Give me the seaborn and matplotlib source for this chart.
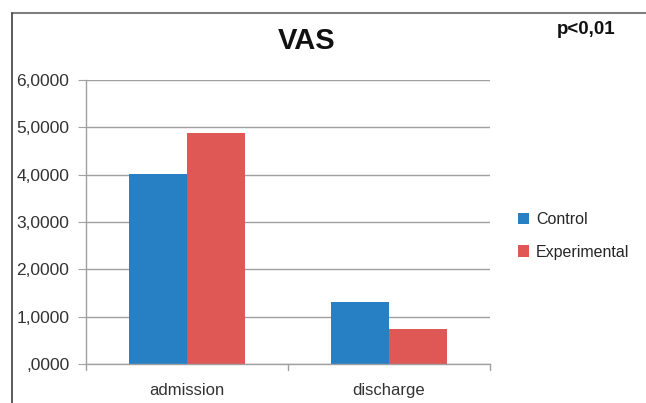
import matplotlib
matplotlib.use("Agg")
import matplotlib.pyplot as plt
from matplotlib.lines import Line2D
from matplotlib.patches import Patch
import seaborn as sns
import pandas as pd

# Data
categories = ["admission", "discharge"]
groups = ["Control", "Experimental"]
control_vals = [4.02, 1.31]
experimental_vals = [4.88, 0.74]
yticks = [0, 1, 2, 3, 4, 5, 6]
ytick_labels = [",0000", "1,0000", "2,0000", "3,0000", "4,0000", "5,0000", "6,0000"]
colors = {"Control": "#2780c3", "Experimental": "#e05856"}

df = pd.DataFrame({
    "stage": categories * 2,
    "group": ["Control"] * 2 + ["Experimental"] * 2,
    "value": control_vals + experimental_vals,
})

sns.set_style("white")
plt.rcParams["font.family"] = ["Liberation Sans", "DejaVu Sans"]

fig = plt.figure(figsize=(6.46, 4.03), dpi=100)
ax = fig.add_axes([0.1331, 0.0968, 0.6254, 0.7047])

sns.barplot(data=df, x="stage", y="value", hue="group", hue_order=groups,
            palette=colors, width=0.57, gap=0, saturation=1, ax=ax,
            legend=False, errorbar=None, linewidth=0)

ax.set_xlim(-0.5, 1.5)
ax.set_ylim(0, 6)
ax.set_yticks(yticks)
ax.set_yticklabels(ytick_labels, fontsize=12.5, color="#333333")
ax.set_xticks([0, 1])
ax.set_xticklabels(categories, fontsize=12, color="#333333")
ax.set_xlabel("")
ax.set_ylabel("")
ax.yaxis.grid(True, color="#a0a0a0", linewidth=1)
ax.set_axisbelow(True)

for side in ["top", "right"]:
    ax.spines[side].set_visible(False)
for side in ["left", "bottom"]:
    ax.spines[side].set_color("#a0a0a0")
    ax.spines[side].set_linewidth(1)

ax.tick_params(axis="y", left=True, length=6, color="#a0a0a0", pad=6)
ax.tick_params(axis="x", bottom=False, pad=10)
# boundary ticks between categories on the x axis
for xb in [-0.5, 0.5, 1.5]:
    ax.plot([xb, xb], [0, -0.12], color="#a0a0a0", lw=1, clip_on=False)

# legend
handles = [Patch(facecolor=colors[g], edgecolor="none") for g in groups]
fig.legend(handles, groups, loc="center left", bbox_to_anchor=(0.78, 0.415),
           frameon=False, fontsize=11.5, handlelength=0.7, handleheight=0.7,
           handletextpad=0.4, labelspacing=1.1)

# titles
fig.text(0.475, 0.898, "VAS", ha="center", va="center", fontsize=21,
         fontweight="bold", color="#111111")
fig.text(0.908, 0.928, "p<0,01", ha="center", va="center", fontsize=13.5,
         fontweight="bold", color="#111111")

# outer frame (top and left lines)
fig.add_artist(Line2D([0.0186, 1.0], [0.968, 0.968], color="#808080", lw=1.5,
                      transform=fig.transFigure))
fig.add_artist(Line2D([0.0186, 0.0186], [0.0, 0.968], color="#404040", lw=1.2,
                      transform=fig.transFigure))

fig.savefig("out.png", dpi=100)
